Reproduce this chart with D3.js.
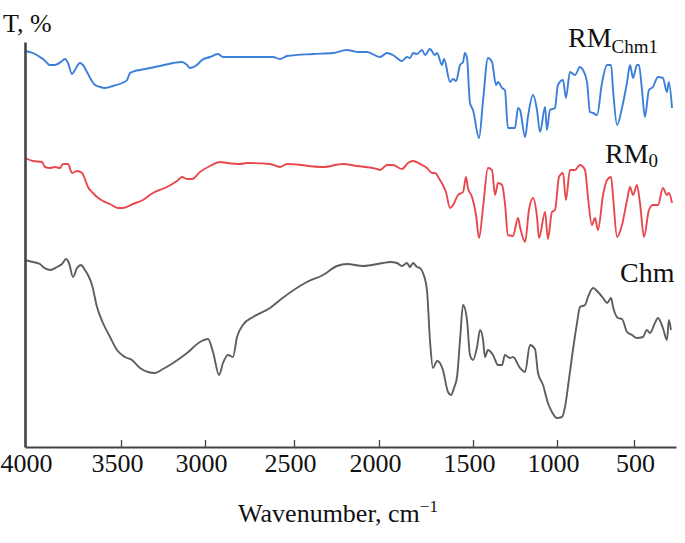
<!DOCTYPE html>
<html><head><meta charset="utf-8">
<script src="https://cdn.jsdelivr.net/npm/d3@7"></script>
<style>body{margin:0;background:#fff}svg{display:block}text{font-family:"Liberation Serif","DejaVu Serif",serif;fill:#111}</style>
</head><body>
<svg id="c" width="685" height="543"></svg>
<script>
// Wavenumber (cm-1) and transmittance (arbitrary %)
const blueData = [[4000,99],[3958,98.5],[3922,97.5],[3906,97],[3870,95.5],[3844,95.5],[3807,96.5],[3792,97],[3776,96],[3755,93.25],[3740,94.25],[3714,96],[3698,95.5],[3677,93.75],[3661,92.25],[3635,90.5],[3609,90],[3583,89.75],[3542,90.25],[3494,91],[3464,91.75],[3446,93.5],[3417,94],[3387,94.25],[3327,94.75],[3268,95.25],[3190,96],[3137,96.25],[3107,95.5],[3089,94.75],[3048,95.5],[3018,96.75],[2972,97.5],[2927,98.25],[2899,97.5],[2843,97.5],[2803,97.5],[2764,97.5],[2674,97.5],[2618,97.5],[2579,97],[2539,97.75],[2388,98.25],[2271,98.5],[2188,99.25],[2153,99],[2129,98.75],[2071,98.75],[1995,97.5],[1957,98.5],[1926,98],[1878,96.5],[1851,97.5],[1835,97.25],[1819,98.5],[1798,98.25],[1771,99.25],[1755,98],[1729,99.5],[1702,98],[1691,98.5],[1665,95.5],[1654,97],[1622,91.25],[1606,92],[1590,91.5],[1569,95.5],[1553,96.25],[1543,98.5],[1532,97.25],[1516,86],[1500,84.25],[1464,77.25],[1440,86.75],[1411,97.25],[1387,96.25],[1363,90.5],[1351,91.25],[1327,89.75],[1310,89.25],[1292,79.75],[1268,79.75],[1250,79.75],[1232,84.75],[1220,84.25],[1190,77.5],[1173,82.5],[1143,88],[1119,84.25],[1101,78.75],[1071,85],[1060,79.25],[1042,84.25],[1012,84.75],[994,90.5],[961,91.75],[942,87.25],[916,93.75],[883,93],[851,95],[831,94.25],[805,91.25],[786,83.75],[766,83.5],[740,83],[708,91],[675,95.5],[649,95.5],[636,89.25],[610,80.5],[578,84.75],[545,91.25],[526,95.5],[506,92.25],[481,95.5],[468,95.5],[448,89.25],[429,82.5],[403,89.25],[377,90],[344,92.5],[312,92.25],[286,88.75],[273,91.25],[253,84.75]];

const redData = [[4000,72.25],[3958,71.5],[3911,71.25],[3896,70],[3870,69.75],[3844,70],[3818,69.75],[3802,70.75],[3776,70.75],[3755,68.5],[3729,69],[3703,68.5],[3682,66.25],[3672,65],[3651,63.75],[3625,62.5],[3594,61.5],[3557,60.75],[3516,59.75],[3488,59.75],[3429,60.75],[3369,61.75],[3310,63.5],[3226,65],[3167,66.5],[3137,67.5],[3107,67],[3077,67],[3030,68.75],[2972,70.25],[2916,71.25],[2876,71],[2803,70.75],[2764,71],[2635,70.75],[2579,70],[2539,70.75],[2329,70],[2212,70.75],[2129,70.25],[2012,69.5],[1995,69.25],[1957,70.5],[1926,70.5],[1878,69.5],[1846,71],[1819,71.5],[1771,70.5],[1745,69.75],[1718,68.5],[1702,68.5],[1676,66.75],[1660,65.5],[1644,63.75],[1622,59.75],[1606,60.5],[1580,63],[1553,63.75],[1537,67.5],[1527,64.75],[1505,62.5],[1482,58],[1464,52.25],[1440,60],[1411,69.75],[1387,69.25],[1369,63],[1351,66],[1327,65.5],[1310,61],[1292,53],[1262,52.75],[1232,57.25],[1220,55],[1190,51.25],[1167,59.25],[1143,62.25],[1119,57.5],[1107,52.25],[1071,58.75],[1054,52],[1030,58.75],[1012,59.25],[987,67.5],[961,68.5],[942,61.75],[916,69.25],[883,69.25],[851,70.5],[818,69.25],[799,62.5],[773,55.5],[753,57.25],[734,54.25],[701,63],[675,66.75],[649,67.5],[636,62.5],[610,52.5],[578,55.5],[545,61.75],[526,65],[506,63],[481,65.5],[461,61],[435,52.5],[403,59.25],[377,60.5],[344,60.5],[312,64.75],[286,63],[273,63.5],[253,61]];

const grayData = [[4000,46.75],[3958,46.25],[3922,45.75],[3906,45],[3870,44.25],[3833,45],[3807,45.75],[3786,47],[3771,46],[3750,42.5],[3729,44.75],[3708,45.5],[3688,44.25],[3672,43],[3651,40.5],[3625,35],[3594,31],[3557,27.5],[3521,24.25],[3476,22.5],[3435,21.75],[3387,19.75],[3339,18.75],[3298,18.5],[3250,19.5],[3190,21],[3107,23.5],[3030,26.25],[2983,27],[2955,23.75],[2921,18],[2899,21],[2871,23],[2843,22.5],[2820,27.5],[2787,30.5],[2730,32.5],[2635,34.75],[2579,36.75],[2424,41.25],[2329,43],[2247,45.25],[2188,45.75],[2094,45.25],[1979,46],[1941,46.25],[1904,46],[1878,45.25],[1851,46],[1835,45],[1819,46],[1798,45],[1782,44.75],[1766,43.5],[1745,39.25],[1729,26.75],[1713,19.75],[1691,21.5],[1676,21],[1660,19.25],[1633,13.75],[1617,13],[1601,14.75],[1585,17.5],[1569,26.75],[1553,35.5],[1532,31.75],[1516,23],[1500,21.75],[1476,25],[1458,29.25],[1440,26.75],[1429,22.5],[1411,24.25],[1381,23],[1351,20.5],[1327,20.5],[1310,23],[1280,22.25],[1262,22.5],[1220,19.75],[1190,18.75],[1161,25.5],[1131,24.5],[1113,18.5],[1083,15.5],[1054,11],[1030,8.75],[1000,7.25],[968,7.5],[948,10],[929,15],[903,22.5],[870,31],[851,35],[818,35.5],[799,37.5],[766,39.75],[734,38.75],[701,37.25],[675,36],[649,37.25],[636,35],[604,32.25],[578,32],[545,28.75],[513,28],[481,27.25],[442,27.5],[416,29.25],[396,28.5],[364,31],[344,32.25],[312,29.75],[286,26.75],[273,31.75],[260,29.25]];

const xTickValues = [4000,3500,3000,2500,2000,1500,1000,500];
const seriesNames = ["RM_Chm1","RM_0","Chm"];
const seriesColors = ["#3b7fd9","#e8484d","#5e5e5e"];

const svg = d3.select("#c");
// Non-uniform axis as in the original figure: piecewise-linear scale
const x = d3.scaleLinear()
  .domain([4000,3500,3000,2500,2000,1500,1000,500,227])
  .range([25,121,205,294,379,473,557,634,676]);
const y = d3.scaleLinear().domain([0,101.25]).range([447,42]);

const line = d3.line().x(d=>x(d[0])).y(d=>y(d[1])).curve(d3.curveMonotoneX);

[blueData, redData, grayData].forEach((data,i)=>{
  svg.append("path").datum(data)
    .attr("fill","none").attr("stroke",seriesColors[i])
    .attr("stroke-width",1.9).attr("stroke-linejoin","round")
    .attr("d",line);
});

// Axes
const xAxis = d3.axisBottom(x).tickValues(xTickValues).tickSize(-7).tickSizeOuter(0).tickFormat(d3.format("d"));
const gx = svg.append("g").attr("transform","translate(0,447)").call(xAxis);
gx.select(".domain").attr("stroke","#444").attr("stroke-width",2.2);
gx.selectAll(".tick line").attr("stroke","#444").attr("stroke-width",1.3);
gx.selectAll(".tick text").attr("y",25).attr("dy",0)
  .attr("dx",(d,i)=> (i>0 && i<xTickValues.length-1) ? -4 : 1)
  .style("font-size","26px").style("font-family","Liberation Serif").attr("fill","#111");

const yAxis = d3.axisLeft(y).tickValues([]).tickSizeOuter(0);
const gy = svg.append("g").attr("transform","translate(25,0)").call(yAxis);
gy.select(".domain").attr("stroke","#444").attr("stroke-width",2.6);

// Axis titles
svg.append("text").attr("x",3).attr("y",32).style("font-size","26px").text("T, %");
const xt = svg.append("text").attr("x",338).attr("y",522).attr("text-anchor","middle").style("font-size","26px");
xt.append("tspan").text("Wavenumber, cm");
xt.append("tspan").attr("dy",-10).style("font-size","17px").text("\u22121");

// Series labels
const l1 = svg.append("text").attr("x",568).attr("y",47).style("font-size","28px");
l1.append("tspan").text("RM");
l1.append("tspan").attr("dy",6).style("font-size","19px").text("Chm1");
const l2 = svg.append("text").attr("x",605).attr("y",163).style("font-size","28px");
l2.append("tspan").text("RM");
l2.append("tspan").attr("dy",4).style("font-size","19px").text("0");
svg.append("text").attr("x",620).attr("y",282).style("font-size","28px").text("Chm");
</script>
</body></html>
